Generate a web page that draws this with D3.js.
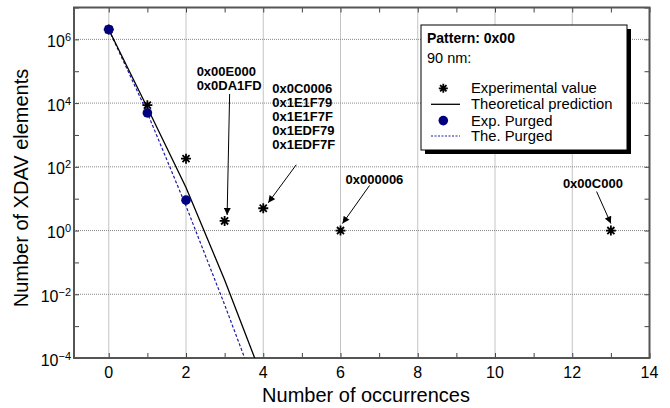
<!DOCTYPE html>
<html><head><meta charset="utf-8">
<script src="https://cdn.jsdelivr.net/npm/d3@7"></script>
<style>
body{margin:0;background:#fff;}
svg{display:block;font-family:Arial,"Liberation Sans",sans-serif;}
</style></head>
<body><svg id="c" width="670" height="408"></svg>
<script>
// ---------- data ----------
const expX = [0, 1, 2, 3, 4, 6, 13];
const expY = [2.04e6, 8.6e3, 180, 2, 5, 1, 1];
const theoX = [0, 1, 2, 3, 4];
const theoY = [2.04e6, 7.1e3, 22.4, 0.0282, 2.0e-5];
const purgedX = [0, 1, 2];
const purgedY = [2.04e6, 4.9e3, 9];
const thePurgedX = [0, 1, 2, 3, 4];
const thePurgedY = [2.04e6, 4.9e3, 5.9, 4.7e-3, 2.8e-6];
const xTicks = [0, 2, 4, 6, 8, 10, 12, 14];
const yTickExp = [-4, -2, 0, 2, 4, 6];
const annX = [3, 4, 6, 13];
const annY = [2, 5, 1, 1];
const annLabels = [
  ["0x00E000", "0x0DA1FD"],
  ["0x0C0006", "0x1E1F79", "0x1E1F7F", "0x1EDF79", "0x1EDF7F"],
  ["0x000006"],
  ["0x00C000"]
];
const legendTitle = ["Pattern: 0x00", "90 nm:"];
const legendLabels = ["Experimental value", "Theoretical prediction", "Exp. Purged", "The. Purged"];

// ---------- layout ----------
const L = 74, R = 649.5, T = 7.5, B = 358;
// annotation offsets (px) relative to target: text pos, arrow start, arrow tip
const annLayout = [
  {tx:-28, ty:-145, sx:5, sy:-127, ex:2.5, ey:-6},
  {tx:9, ty:-115.5, sx:33, sy:-43.5, ex:5, ey:-5.5},
  {tx:5, ty:-46.7, sx:29, sy:-45, ex:2, ey:-7},
  {tx:-48, ty:-42.7, sx:-14.3, sy:-39, ex:0, ey:-7}
];

const svg = d3.select("#c");
const x = d3.scaleLinear().domain([-0.9, 14]).range([L, R]);
const y = d3.scaleLog().domain([1e-4, 1e7]).range([B, T]);

svg.append("defs").append("clipPath").attr("id","clip")
  .append("rect").attr("x",L).attr("y",T).attr("width",R-L).attr("height",B-T);
const mk = svg.select("defs").append("marker").attr("id","arr")
  .attr("viewBox","0 0 10 10").attr("refX",10).attr("refY",5)
  .attr("markerWidth",8).attr("markerHeight",7).attr("markerUnits","userSpaceOnUse")
  .attr("orient","auto");
mk.append("path").attr("d","M0,0L10,5L0,10Z").attr("fill","#000");

// grid
const g = svg.append("g");
xTicks.filter(v => v > -0.9 && v < 14).forEach(v => {
  g.append("line").attr("x1",x(v)).attr("x2",x(v)).attr("y1",T).attr("y2",B)
    .attr("stroke","#888").attr("stroke-dasharray","1,1").attr("stroke-width",1);
});
yTickExp.filter(e => e > -4).forEach(e => {
  g.append("line").attr("x1",L).attr("x2",R).attr("y1",y(Math.pow(10,e))).attr("y2",y(Math.pow(10,e)))
    .attr("stroke","#888").attr("stroke-dasharray","1,1").attr("stroke-width",1);
});

// axes via d3 axis (inward ticks)
const minorX = d3.range(0, 15, 1);
const decades = d3.range(-4, 8).map(e => Math.pow(10, e));
svg.append("g").attr("transform",`translate(0,${B})`)
  .call(d3.axisBottom(x).tickValues(minorX).tickSize(-5).tickFormat(""))
  .call(s => s.select(".domain").remove());
svg.append("g").attr("transform",`translate(0,${T})`)
  .call(d3.axisTop(x).tickValues(minorX).tickSize(-5).tickFormat(""))
  .call(s => s.select(".domain").remove());
svg.append("g").attr("transform",`translate(${L},0)`)
  .call(d3.axisLeft(y).tickValues(decades).tickSize(-5).tickFormat(""))
  .call(s => s.select(".domain").remove());
svg.append("g").attr("transform",`translate(${R},0)`)
  .call(d3.axisRight(y).tickValues(decades).tickSize(-5).tickFormat(""))
  .call(s => s.select(".domain").remove());
svg.selectAll(".tick line").attr("stroke","#444").attr("stroke-width",1);

// tick labels
xTicks.forEach(v => {
  svg.append("text").attr("x",x(v)).attr("y",B+20).attr("text-anchor","middle")
    .attr("font-size",16).attr("fill","#000").text(v);
});
yTickExp.forEach(e => {
  const t = svg.append("text").attr("x",71).attr("y",y(Math.pow(10,e))+7.5)
    .attr("text-anchor","end").attr("font-size",16).attr("fill","#000");
  t.append("tspan").text("10");
  t.append("tspan").attr("dy",-6).attr("font-size",11).text(e < 0 ? "\u2212" + (-e) : e);
});

// axis titles
svg.append("text").attr("x",366).attr("y",402).attr("text-anchor","middle")
  .attr("font-size",20).text("Number of occurrences");
svg.append("text").attr("transform","translate(28,188) rotate(-90)").attr("text-anchor","middle")
  .attr("font-size",20).text("Number of XDAV elements");

// frame
svg.append("rect").attr("x",L).attr("y",T).attr("width",R-L).attr("height",B-T)
  .attr("fill","none").attr("stroke","#555").attr("stroke-width",2);

// lines
const plot = svg.append("g").attr("clip-path","url(#clip)");
const lineGen = d3.line().x(d => x(d[0])).y(d => y(d[1]));
plot.append("path").datum(thePurgedX.map((v,i)=>[v, thePurgedY[i]])).attr("d",lineGen)
  .attr("fill","none").attr("stroke","#1c1ca8").attr("stroke-width",1.2).attr("stroke-dasharray","3,2");
plot.append("path").datum(theoX.map((v,i)=>[v, theoY[i]])).attr("d",lineGen)
  .attr("fill","none").attr("stroke","#000").attr("stroke-width",1.3);

// star marker
function star(sel, cx, cy, r) {
  const a = r * 0.7071;
  sel.append("path")
    .attr("d",`M${cx-r},${cy}L${cx+r},${cy}M${cx},${cy-r}L${cx},${cy+r}M${cx-a},${cy-a}L${cx+a},${cy+a}M${cx-a},${cy+a}L${cx+a},${cy-a}`)
    .attr("stroke","#000").attr("stroke-width",1.8).attr("fill","none");
}
expX.forEach((v,i) => star(plot, x(v), y(expY[i]), 5));
purgedX.forEach((v,i) => {
  plot.append("circle").attr("cx",x(v)).attr("cy",y(purgedY[i])).attr("r",4.8).attr("fill","#000080");
});

// annotations
annX.forEach((v,i) => {
  const px = x(v), py = y(annY[i]), lay = annLayout[i];
  const t = svg.append("text").attr("font-size",13).attr("font-weight","bold");
  annLabels[i].forEach((s,j) => {
    t.append("tspan").attr("x",px+lay.tx).attr("y",py+lay.ty+j*14).text(s);
  });
  svg.append("line").attr("x1",px+lay.sx).attr("y1",py+lay.sy).attr("x2",px+lay.ex).attr("y2",py+lay.ey)
    .attr("stroke","#000").attr("stroke-width",1).attr("marker-end","url(#arr)");
});

// legend
const lg = svg.append("g");
lg.append("rect").attr("x",425).attr("y",29).attr("width",206).attr("height",125).attr("fill","#000");
lg.append("rect").attr("x",421).attr("y",25).attr("width",206).attr("height",125)
  .attr("fill","#fff").attr("stroke","#000").attr("stroke-width",1);
lg.append("text").attr("x",427).attr("y",43).attr("font-size",14).attr("font-weight","bold").text(legendTitle[0]);
lg.append("text").attr("x",427).attr("y",63).attr("font-size",14.5).text(legendTitle[1]);
const rowY = [93.3, 109.3, 125.6, 141];
legendLabels.forEach((s,i) => {
  lg.append("text").attr("x",471).attr("y",rowY[i]).attr("font-size",14.8).text(s);
});
star(lg, 443.3, rowY[0]-5, 4.5);
lg.append("line").attr("x1",431).attr("x2",460).attr("y1",rowY[1]-5).attr("y2",rowY[1]-5)
  .attr("stroke","#000").attr("stroke-width",1.3);
lg.append("circle").attr("cx",443.3).attr("cy",rowY[2]-5).attr("r",4.8).attr("fill","#000080");
lg.append("line").attr("x1",431).attr("x2",460).attr("y1",rowY[3]-5).attr("y2",rowY[3]-5)
  .attr("stroke","#1c1ca8").attr("stroke-width",1.2).attr("stroke-dasharray","2,1.5");
</script></body></html>
